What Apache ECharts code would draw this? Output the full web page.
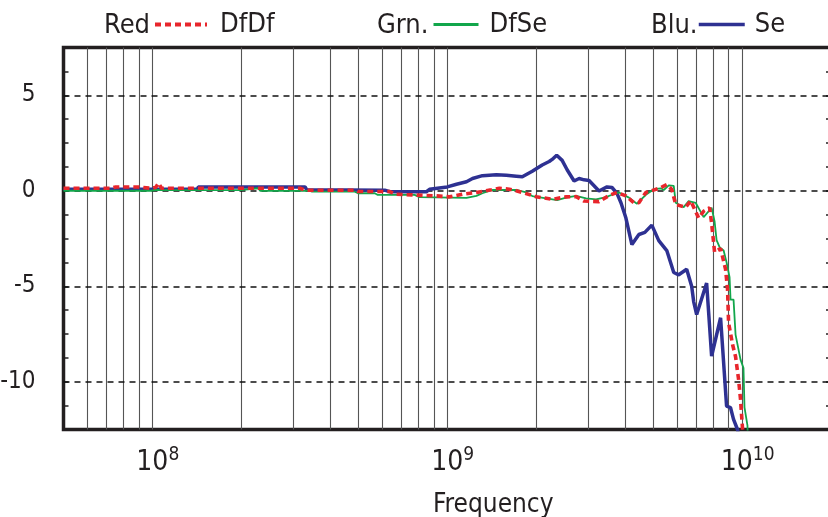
<!DOCTYPE html>
<html><head><meta charset="utf-8">
<script src="https://cdn.jsdelivr.net/npm/echarts@6/dist/echarts.min.js"></script>
<style>html,body{margin:0;padding:0;background:#fff}#c{width:828px;height:517px}</style>
</head><body><div id="c"></div>
<script>
// ---------- data (frequency in Hz, response in dB) ----------
const freqSe = [5.0e7,1.42e8,1.433e8,3.296e8,3.34e8,6.14e8,6.385e8,8.51e8,8.71e8,1.0e9,1.075e9,1.162e9,1.218e9,1.316e9,1.467e9,1.586e9,1.714e9,1.797e9,1.942e9,2.099e9,2.216e9,2.268e9,2.35e9,2.452e9,2.549e9,2.692e9,2.799e9,2.91e9,3.025e9,3.27e9,3.48e9,3.618e9,3.762e9,3.881e9,4.034e9,4.227e9,4.464e9,4.677e9,4.938e9,5.214e9,5.55e9,5.86e9,6.092e9,6.483e9,6.74e9,6.846e9,7.008e9,7.575e9,7.876e9,8.447e9,8.851e9,9.13e9,9.346e9,9.493e9,9.64e9,9.716e9];
const dbSe = [0.08,0.08,0.2,0.2,0.05,0.03,-0.05,-0.05,0.08,0.2,0.34,0.47,0.64,0.79,0.84,0.81,0.76,0.73,1.02,1.35,1.53,1.64,1.86,1.59,1.10,0.51,0.64,0.57,0.54,-0.01,0.2,0.17,-0.14,-0.63,-1.43,-2.82,-2.29,-2.18,-1.8,-2.61,-3.13,-4.28,-4.40,-4.11,-5.0,-5.8,-6.48,-4.83,-8.66,-6.65,-11.28,-11.36,-11.97,-11.87,-12.5,-12.8];

const freqDfDf = [5.0e7,7.23e7,7.52e7,8.92e7,9.87e7,1.026e8,1.05e8,1.075e8,3.17e8,3.296e8,4.86e8,4.98e8,6.385e8,6.64e8,9.2e8,1.018e9,1.126e9,1.256e9,1.411e9,1.502e9,1.624e9,1.714e9,2.003e9,2.268e9,2.529e9,2.735e9,2.91e9,3.27e9,3.535e9,3.762e9,4.034e9,4.294e9,4.464e9,4.713e9,5.214e9,5.55e9,5.769e9,5.952e9,6.433e9,6.688e9,7.118e9,7.4e9,7.754e9,7.876e9,8.061e9,8.447e9,8.782e9,8.92e9,8.99e9,9.274e9,9.493e9,9.716e9,9.87e9,9.945e9,1.002e10,1.006e10];
const dbDfDf = [0.13,0.13,0.2,0.2,0.13,0.17,0.4,0.13,0.13,0.03,0.03,-0.04,-0.04,-0.18,-0.27,-0.32,-0.18,-0.09,0.05,0.13,0.08,0.0,-0.31,-0.45,-0.32,-0.31,-0.54,-0.57,-0.25,-0.09,-0.27,-0.63,-0.63,-0.09,0.12,0.32,0.07,-0.72,-0.86,-0.52,-1.43,-1.07,-0.89,-1.7,-3.21,-3.03,-4.11,-5.17,-6.91,-8.05,-8.68,-9.85,-10.92,-11.7,-12.4,-12.8];

const freqDfSe = [5.0e7,9.87e7,1.026e8,1.171e8,1.988e8,2.018e8,2.287e8,2.323e8,3.425e8,3.48e8,4.86e8,4.98e8,5.68e8,5.815e8,7.75e8,8.06e8,1.162e9,1.256e9,1.316e9,1.422e9,1.714e9,1.853e9,1.942e9,2.165e9,2.358e9,2.529e9,2.735e9,2.955e9,3.195e9,3.453e9,3.618e9,3.821e9,4.13e9,4.395e9,4.713e9,5.015e9,5.297e9,5.421e9,5.636e9,5.86e9,5.952e9,6.333e9,6.585e9,6.953e9,7.4e9,7.876e9,8.061e9,8.187e9,8.381e9,8.646e9,8.851e9,9.06e9,9.13e9,9.346e9,9.493e9,9.87e9,1.010e10,1.018e10,1.034e10,1.042e10,1.044e10];
const dbDfSe = [0.0,0.0,0.04,0.03,0.03,0.13,0.13,-0.01,-0.01,-0.05,-0.05,-0.13,-0.13,-0.22,-0.22,-0.33,-0.37,-0.27,-0.13,0.04,0.04,-0.09,-0.28,-0.4,-0.49,-0.36,-0.27,-0.4,-0.45,-0.33,-0.21,-0.09,-0.36,-0.68,-0.21,0.08,0.13,0.04,0.28,0.25,-0.63,-0.86,-0.54,-0.63,-1.38,-0.89,-1.61,-2.59,-2.95,-3.12,-3.75,-4.53,-5.7,-5.7,-7.53,-8.84,-9.28,-11.34,-11.44,-12.3,-12.8];

const gridFreqs = [6e7,7e7,8e7,9e7,1e8,2e8,3e8,4e8,5e8,6e8,7e8,8e8,9e8,1e9,2e9,3e9,4e9,5e9,6e9,7e9,8e9,9e9,1e10];
const refLevels = [5,0,-5,-10];
const yLabels = [5,0,-5,-10];
const legendPrefixes = ['Red','Grn.','Blu.'];
const seriesNames = ['DfDf','DfSe','Se'];

// ---------- chart ----------
const FONT = "'Liberation Sans Narrow','DejaVu Sans Condensed','Roboto Condensed',sans-serif";
const INK = '#231f20';
const zip = (a,b) => a.map((v,i) => [v, b[i]]);

const chart = echarts.init(document.getElementById('c'), null, {renderer:'canvas'});

const markData = [];
gridFreqs.forEach(f => markData.push({xAxis:f, lineStyle:{color:'#555', width:1.1, type:'solid'}}));
refLevels.forEach(v => markData.push({yAxis:v, lineStyle:{color:'#111', width:1.5, type:[6,5]}}));

const yBase = {
  type:'value', min:-12.5, max:7.5, interval:1.25,
  axisLine:{show:false},
  axisTick:{show:true, inside:true, length:5, lineStyle:{color:INK, width:1.5}},
  splitLine:{show:false}
};

const legendCommon = {top:11, padding:0, itemHeight:14, selectedMode:false, itemStyle:{opacity:0}};

chart.setOption({
  animation:false,
  textStyle:{fontFamily:FONT, color:INK},
  grid:{left:63.5, right:-3, top:47.5, bottom:87.5, outerBoundsMode:'none', containLabel:false,
        show:true, borderColor:INK, borderWidth:3.5, backgroundColor:'transparent'},
  legend:[
    Object.assign({data:[seriesNames[0]], left:153, itemWidth:52, lineStyle:{width:4},
      textStyle:{fontSize:27, color:INK, fontFamily:FONT, padding:[0,0,0,8]}}, legendCommon),
    Object.assign({data:[seriesNames[1]], left:432, itemWidth:45, lineStyle:{width:3},
      textStyle:{fontSize:27, color:INK, fontFamily:FONT, padding:[0,0,0,6]}}, legendCommon),
    Object.assign({data:[seriesNames[2]], left:697, itemWidth:46, lineStyle:{width:3.5},
      textStyle:{fontSize:27, color:INK, fontFamily:FONT, padding:[0,0,0,5]}}, legendCommon)
  ],
  graphic:[
    {type:'text', x:104, y:25.5, style:{text:legendPrefixes[0], fontSize:27, fontFamily:FONT, fill:INK, verticalAlign:'middle'}},
    {type:'text', x:377, y:25.5, style:{text:legendPrefixes[1], fontSize:27, fontFamily:FONT, fill:INK, verticalAlign:'middle'}},
    {type:'text', x:651, y:25.5, style:{text:legendPrefixes[2], fontSize:27, fontFamily:FONT, fill:INK, verticalAlign:'middle'}}
  ],
  xAxis:{
    type:'log', logBase:10, min:5e7, max:2e10,
    axisLine:{show:false}, axisTick:{show:false}, splitLine:{show:false},
    axisLabel:{
      margin:16, showMinLabel:true, showMaxLabel:true,
      formatter:function(v){
        const l = Math.log10(v);
        if (Math.abs(l - Math.round(l)) > 1e-6) return '';
        return '{b|10}{s|' + Math.round(l) + '}';
      },
      rich:{
        b:{fontSize:28, fontFamily:FONT, color:INK, lineHeight:28, padding:[7,0,0,11]},
        s:{fontSize:19, fontFamily:FONT, color:INK, lineHeight:19, verticalAlign:'top'}
      }
    },
    name:'Frequency', nameLocation:'middle', nameGap:63,
    nameTextStyle:{fontSize:26, fontFamily:FONT, color:INK, padding:[0,0,0,92]}
  },
  yAxis:[
    Object.assign({}, yBase, {position:'left',
      axisLabel:{margin:28, fontSize:24, fontFamily:FONT, color:INK,
        formatter:v => yLabels.indexOf(v) >= 0 ? String(v) : ''}}),
    Object.assign({}, yBase, {position:'right', axisLabel:{show:false}})
  ],
  series:[
    {type:'line', data:[], silent:true, z:1,
     markLine:{silent:true, z:1, symbol:['none','none'], label:{show:false}, emphasis:{disabled:true}, data:markData}},
    {name:seriesNames[2], type:'line', data:zip(freqSe, dbSe), symbol:'none', z:2,
     lineStyle:{color:'#2e3192', width:3.5}, itemStyle:{color:'#2e3192'}},
    {name:seriesNames[1], type:'line', data:zip(freqDfSe, dbDfSe), symbol:'none', z:3,
     lineStyle:{color:'#12a64b', width:1.8}, itemStyle:{color:'#12a64b'}},
    {name:seriesNames[0], type:'line', data:zip(freqDfDf, dbDfDf), symbol:'none', z:4,
     lineStyle:{color:'#e8262c', width:3.6, type:[6,4]}, itemStyle:{color:'#e8262c'}}
  ]
});
</script>
</body></html>
